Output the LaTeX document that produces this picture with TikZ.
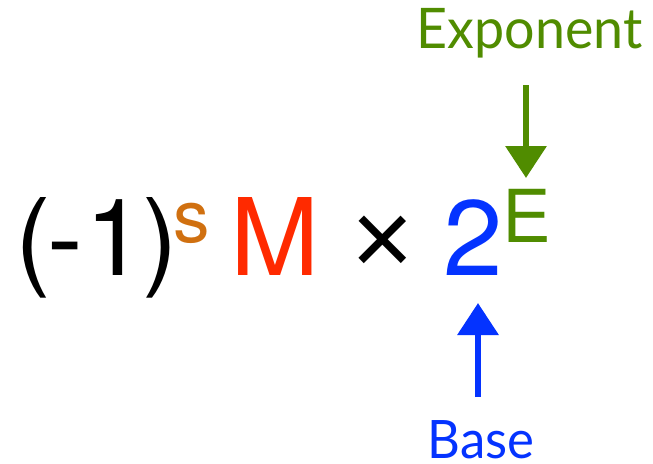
\documentclass[tikz,border=0pt]{standalone}
\usepackage{fontspec}
\usetikzlibrary{arrows.meta}
\newfontfamily\mainf{TeX Gyre Heros}
\newfontfamily\timesf{Liberation Sans}
\newfontfamily\labf[FakeStretch=0.96]{Lato}
\definecolor{expgreen}{HTML}{508C00}
\definecolor{baseblue}{HTML}{0433FF}
\definecolor{mred}{HTML}{FF2A00}
\definecolor{sorange}{HTML}{D07010}
\tikzset{
  glyph/.style={inner sep=0pt, outer sep=0pt, anchor=base},
  big/.style={glyph, font=\mainf\fontsize{107}{107}\selectfont},
  sup/.style={glyph, font=\mainf\fontsize{73}{73}\selectfont},
  lab/.style={glyph, text depth=0pt, font=\labf\fontsize{56}{56}\selectfont},
  chalk/.style={line width=6.5pt, -{Triangle[length=32pt,width=40pt]}}
}
\begin{document}
\begin{tikzpicture}[x=1pt,y=-1pt]
\useasboundingbox (0,0) rectangle (653,463);
\node[big] (lp) at (33.5,275) {(};
\node[big] (minus) at (65.5,275) {-};
\node[big] (one) at (115,275) {1};
\node[big] (rp) at (160,275) {)};
\node[sup, text=sorange] (s) at (191.5,242) {s};
\node[big, text=mred] (M) at (275.5,275) {M};
\node[big, font=\timesf\fontsize{107}{107}\selectfont] (times) at (383,275) {×};
\node[big, text=baseblue] (two) at (473,275) {2};
\node[sup, text=expgreen] (E) at (527,242) {E};
\node[lab, text=expgreen] (explab) at (529.5,48) {Exponent};
\node[lab, text=baseblue, font=\labf\fontsize{53}{53}\selectfont] (baselab) at (481,458) {Base};
\coordinate (expstart) at (526,85);
\coordinate (exptip) at (526,178);
\coordinate (basestart) at (478,397);
\coordinate (basetip) at (478,303);
\draw[chalk, expgreen] (expstart) -- (exptip);
\draw[chalk, baseblue] (basestart) -- (basetip);
\end{tikzpicture}
\end{document}
